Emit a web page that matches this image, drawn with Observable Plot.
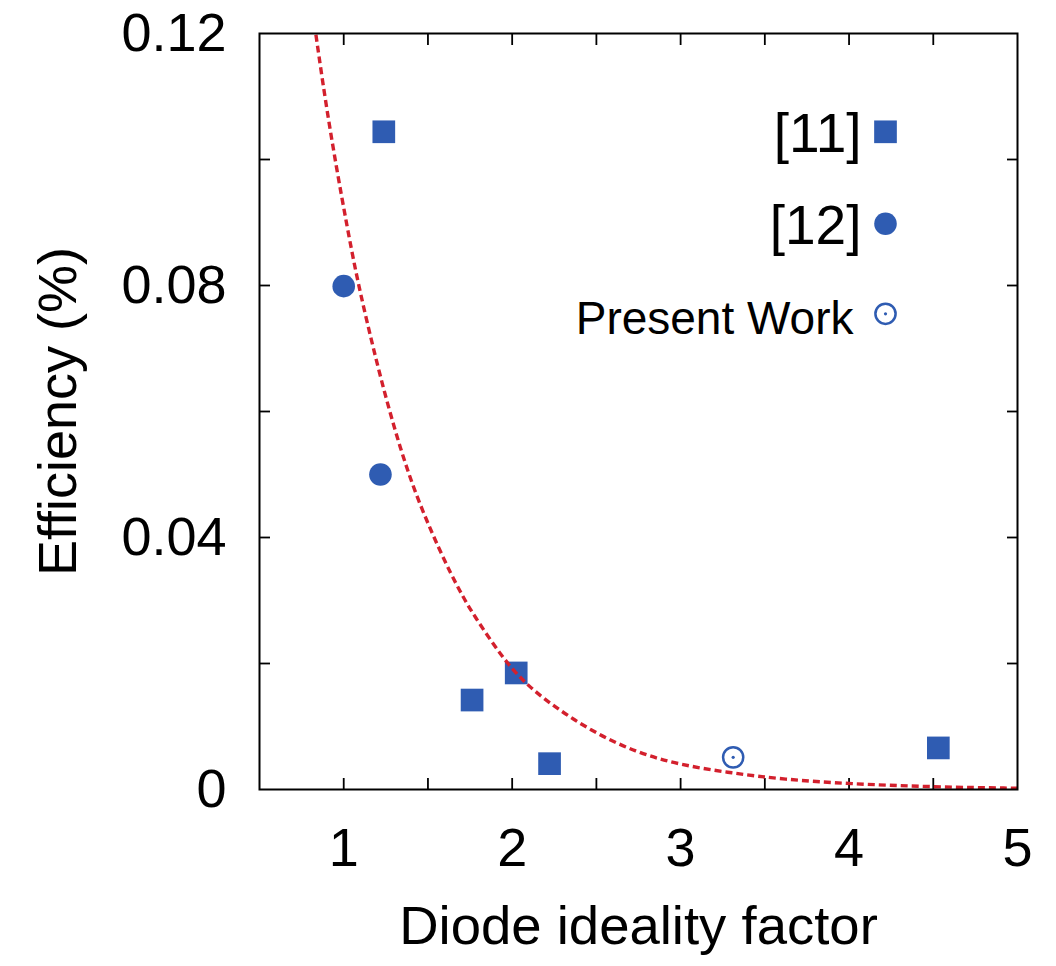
<!DOCTYPE html>
<html>
<head>
<meta charset="utf-8">
<script src="https://cdn.jsdelivr.net/npm/d3@7"></script>
<script src="https://cdn.jsdelivr.net/npm/@observablehq/plot@0.6"></script>
<style>
  html, body { margin: 0; padding: 0; background: #fff; }
  #chart svg { display: block; }
</style>
</head>
<body>
<div id="chart"></div>
<script>
// ---- data ----
const ref11X = [1.238, 1.762, 2.024, 2.222, 4.53];
const ref11Y = [0.1044, 0.0142, 0.0185, 0.0041, 0.0066];
const ref12X = [1.0, 1.218];
const ref12Y = [0.0799, 0.050];
const presentX = [3.312];
const presentY = [0.0051];
// fitted curve
const fitX = [0.835, 0.89, 0.956, 1.019, 1.074, 1.133, 1.216, 1.318, 1.436, 1.614, 1.712, 1.762, 1.939, 2.071, 2.225, 2.467, 2.734, 2.996, 3.304, 3.61, 4.0, 4.5, 5.0];
const fitY = [0.1198, 0.1095, 0.0988, 0.0895, 0.0818, 0.0748, 0.0656, 0.0556, 0.0460, 0.0353, 0.0304, 0.0281, 0.0210, 0.0170, 0.0136, 0.0093, 0.0059, 0.0039, 0.0026, 0.0016, 0.0009, 0.0004, 0.0002];
const xTicks = [1, 1.5, 2, 2.5, 3, 3.5, 4, 4.5];
const xTickLabels = [1, 2, 3, 4, 5];
const yTicks = [0.02, 0.04, 0.06, 0.08, 0.1];
const yTickLabels = [0, 0.04, 0.08, 0.12];
const legendLabels = ["[11]", "[12]", "Present Work"];
const xTitle = "Diode ideality factor";
const yTitle = "Efficiency (%)";

// ---- build tables ----
const ref11 = ref11X.map((x, i) => ({x, y: ref11Y[i]}));
const ref12 = ref12X.map((x, i) => ({x, y: ref12Y[i]}));
const present = presentX.map((x, i) => ({x, y: presentY[i]}));
const fit = fitX.map((x, i) => ({x, y: fitY[i]}));

const blue = "#2f5cb2";
const red = "#d3202d";
const FONT = 54;

const legendMarks = [
  Plot.text([legendLabels[0]], {text: d => d, frameAnchor: "top-right", dx: -156, dy: 100.5, textAnchor: "end", lineAnchor: "middle", fontSize: 55}),
  Plot.dot([0], {frameAnchor: "top-right", dx: -132, dy: 98.3, symbol: "square", r: 12.8, fill: blue}),
  Plot.text([legendLabels[1]], {text: d => d, frameAnchor: "top-right", dx: -156, dy: 192.5, textAnchor: "end", lineAnchor: "middle", fontSize: 55}),
  Plot.dot([0], {frameAnchor: "top-right", dx: -132, dy: 190.3, symbol: "circle", r: 11.3, fill: blue}),
  Plot.text([legendLabels[2]], {text: d => d, frameAnchor: "top-right", dx: -164, dy: 285.4, textAnchor: "end", lineAnchor: "middle", fontSize: 46}),
  Plot.dot([0], {frameAnchor: "top-right", dx: -132, dy: 280.3, symbol: "circle", r: 10.1, fill: "none", stroke: blue, strokeWidth: 2.5}),
  Plot.dot([0], {frameAnchor: "top-right", dx: -132, dy: 280.3, symbol: "circle", r: 1.6, fill: blue})
];

const chart = Plot.plot({
  width: 1056,
  height: 966,
  marginLeft: 259,
  marginRight: 39,
  marginTop: 33,
  marginBottom: 177,
  style: {fontFamily: "'Liberation Sans', Arial, Helvetica, sans-serif", background: "#fff", color: "#000"},
  x: {domain: [0.5, 5]},
  y: {domain: [0, 0.12]},
  marks: [
    // inward ticks on all four sides
    Plot.axisX(xTicks, {anchor: "bottom", tickSize: -11, strokeWidth: 1.8, tickFormat: () => "", label: null}),
    Plot.axisX(xTicks, {anchor: "top", tickSize: -11, strokeWidth: 1.8, tickFormat: () => "", label: null}),
    Plot.axisY(yTicks, {anchor: "left", tickSize: -11, strokeWidth: 1.8, tickFormat: () => "", label: null}),
    Plot.axisY(yTicks, {anchor: "right", tickSize: -11, strokeWidth: 1.8, tickFormat: () => "", label: null}),
    // tick labels
    Plot.axisX(xTickLabels, {anchor: "bottom", tickSize: 0, tickPadding: 38, fontSize: FONT, label: null, tickFormat: d => String(d)}),
    Plot.axisY(yTickLabels, {anchor: "left", tickSize: 0, tickPadding: 33, fontSize: FONT, label: null, tickFormat: d => String(d)}),
    // axis titles
    Plot.text([xTitle], {text: d => d, frameAnchor: "bottom", dy: 137, textAnchor: "middle", lineAnchor: "middle", fontSize: 54.5}),
    Plot.text([yTitle], {text: d => d, frameAnchor: "left", dx: -201, rotate: -90, textAnchor: "middle", lineAnchor: "middle", fontSize: FONT}),
    // data
    Plot.dot(ref11, {x: "x", y: "y", symbol: "square", r: 12.8, fill: blue}),
    Plot.dot(ref12, {x: "x", y: "y", symbol: "circle", r: 11.3, fill: blue}),
    Plot.dot(present, {x: "x", y: "y", symbol: "circle", r: 10.1, fill: "none", stroke: blue, strokeWidth: 2.5}),
    Plot.dot(present, {x: "x", y: "y", symbol: "circle", r: 1.6, fill: blue}),
    // fitted curve (drawn over the markers, as in the reference)
    Plot.line(fit, {x: "x", y: "y", stroke: red, strokeWidth: 3.4, strokeDasharray: "7 4", strokeLinecap: "butt", curve: "basis"}),
    ...legendMarks,
    Plot.frame({stroke: "#000", strokeWidth: 2})
  ]
});
document.getElementById("chart").appendChild(chart);
</script>
</body>
</html>
